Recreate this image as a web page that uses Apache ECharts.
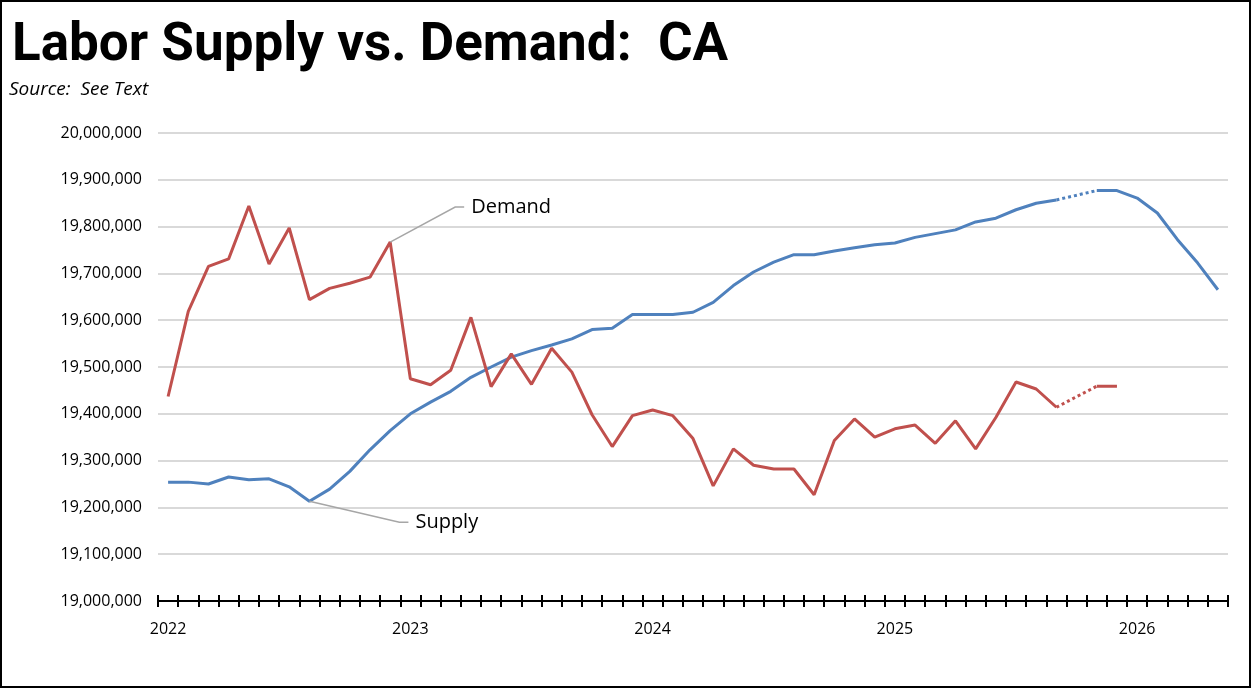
<!DOCTYPE html>
<html lang="en">
<head>
    <meta charset="UTF-8">
    <title>Labor Supply vs. Demand: CA</title>
    <script src="https://cdn.jsdelivr.net/npm/echarts@6/dist/echarts.min.js"></script>
    <style>
        body { margin: 0; background: #fff; }
        #wrap { position: relative; width: 1251px; height: 688px; }
        #chart { position: absolute; left: 0; top: 0; width: 1251px; height: 688px; }
        #frame { position: absolute; left: 0; top: 0; width: 1251px; height: 688px;
                 box-sizing: border-box; border: 2px solid #000; pointer-events: none; }
    </style>
</head>
<body>
<div id="wrap">
    <div id="chart"></div>
    <div id="frame"></div>
</div>

<script>
    // monthly, Jan 2022 .. May 2026
    var years = [2022, 2023, 2024, 2025, 2026];
    var monthsInLast = 5;

    var supply = [
        19254000, 19254000, 19250000, 19265000, 19259000, 19261000, 19244000, 19213000, 19239000, 19277000, 19323000, 19364000,
        19400000, 19425000, 19448000, 19478000, 19500000, 19521000, 19535000, 19547000, 19560000, 19580000, 19583000, 19612000,
        19612000, 19612000, 19617000, 19638000, 19674000, 19703000, 19724000, 19740000, 19740000, 19748000, 19755000, 19761000,
        19765000, 19777000, 19785000, 19793000, 19810000, 19818000, 19836000, 19850000, 19857000, null, 19877000, 19877000,
        19861000, 19829000, 19772000, 19722000, 19665000
    ];

    var demand = [
        19437000, 19619000, 19715000, 19731000, 19844000, 19720000, 19797000, 19644000, 19668000, 19679000, 19692000, 19767000,
        19475000, 19462000, 19493000, 19606000, 19458000, 19528000, 19463000, 19540000, 19489000, 19398000, 19330000, 19396000,
        19408000, 19396000, 19347000, 19246000, 19325000, 19290000, 19282000, 19282000, 19227000, 19343000, 19389000, 19350000,
        19368000, 19376000, 19337000, 19385000, 19325000, 19392000, 19468000, 19453000, 19414000, null, 19459000, 19459000,
        null, null, null, null, null
    ];

    // dotted bridge between these two months
    var gapFrom = 44, gapTo = 46;

    var categories = [];
    years.forEach(function (y, k) {
        var n = (k === years.length - 1) ? monthsInLast : 12;
        for (var m = 1; m <= n; m++) categories.push(y + '-' + (m < 10 ? '0' + m : m));
    });

    function bridge(arr) {
        return arr.map(function (v, i) { return (i === gapFrom || i === gapTo) ? v : null; });
    }

    var BLUE = '#4F81BD', RED = '#C0504D';
    var FONT = '"Open Sans", sans-serif';

    var myChart = echarts.init(document.getElementById('chart'));

    var option = {
        animation: false,
        title: [
            { text: 'Labor Supply vs. Demand:  CA', left: 7, top: 15,
              textStyle: { fontSize: 53, fontWeight: 'bold', color: '#000', fontFamily: 'Roboto, sans-serif' } },
            { text: 'Source:  See Text', left: 4, top: 75,
              textStyle: { fontSize: 19, fontStyle: 'italic', fontWeight: 'normal', color: '#000', fontFamily: FONT } }
        ],
        grid: { left: 158, right: 23, top: 133, bottom: 87 },
        xAxis: [
            {
                type: 'category', data: categories, boundaryGap: true,
                axisLine: { show: true, lineStyle: { color: '#000', width: 2 } },
                axisTick: { show: true, interval: 0, length: 6, lineStyle: { color: '#000', width: 2 } },
                axisLabel: {
                    interval: function (i) { return i % 12 === 0; },
                    formatter: function (v) { return v.slice(0, 4); },
                    color: '#000', fontSize: 16, fontFamily: FONT, margin: 20
                }
            },
            {
                // inward half of the crossing ticks
                type: 'category', data: categories, boundaryGap: true, position: 'bottom',
                axisLine: { show: false },
                axisTick: { show: true, interval: 0, inside: true, length: 6, lineStyle: { color: '#000', width: 2 } },
                axisLabel: { show: false }
            }
        ],
        yAxis: {
            type: 'value', min: 19000000, max: 20000000, interval: 100000,
            axisLine: { show: false }, axisTick: { show: false },
            splitLine: { lineStyle: { color: '#d9d9d9', width: 2 } },
            axisLabel: {
                color: '#000', fontSize: 16, fontFamily: FONT, margin: 16,
                formatter: function (v) { return v.toLocaleString('en-US'); }
            }
        },
        series: [
            { name: 'Supply', type: 'line', data: supply, symbol: 'none',
              lineStyle: { color: BLUE, width: 3 }, connectNulls: false },
            { name: 'Demand', type: 'line', data: demand, symbol: 'none',
              lineStyle: { color: RED, width: 3 }, connectNulls: false },
            { name: 'Supply est', type: 'line', data: bridge(supply), symbol: 'none', connectNulls: true,
              lineStyle: { color: BLUE, width: 3, type: 'dotted' } },
            { name: 'Demand est', type: 'line', data: bridge(demand), symbol: 'none', connectNulls: true,
              lineStyle: { color: RED, width: 3, type: 'dotted' } }
        ]
    };

    myChart.setOption(option);

    // leader-line labels anchored on data points
    function callout(idx, arr, dx, dy, text) {
        var p = myChart.convertToPixel({ seriesIndex: 0 }, [idx, arr[idx]]);
        return [
            { type: 'polyline', silent: true, z: 10,
              shape: { points: [[p[0], p[1]], [p[0] + dx, p[1] + dy], [p[0] + dx + 9, p[1] + dy]] },
              style: { stroke: '#a6a6a6', lineWidth: 1.5, fill: null } },
            { type: 'text', silent: true, z: 10, x: p[0] + dx + 16, y: p[1] + dy,
              style: { text: text, fontSize: 20, fontFamily: FONT, fill: '#000', textVerticalAlign: 'middle' } }
        ];
    }

    myChart.setOption({
        graphic: callout(11, demand, 65, -35, 'Demand').concat(callout(7, supply, 90, 21, 'Supply'))
    });
</script>
</body>
</html>
